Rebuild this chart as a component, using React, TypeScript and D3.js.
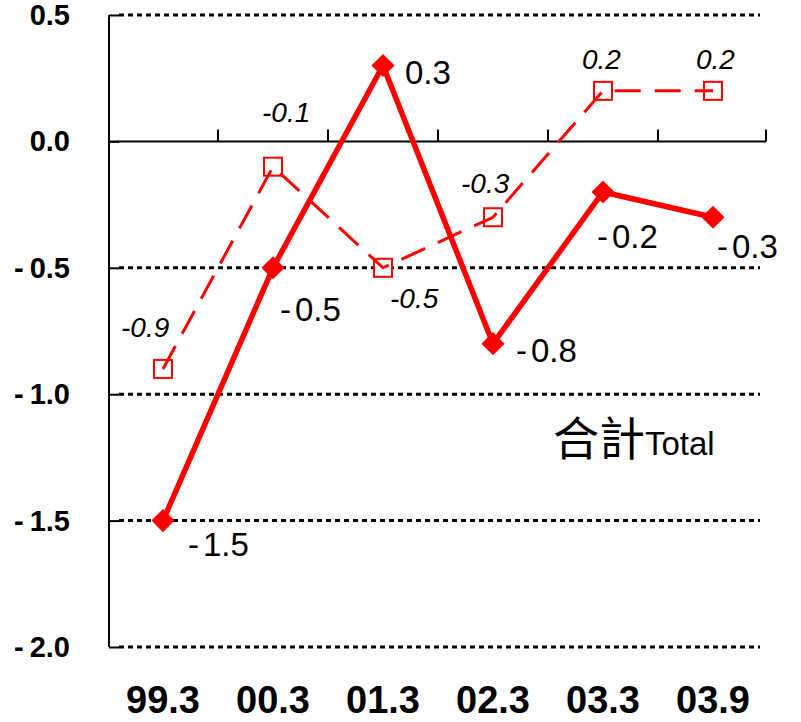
import * as d3 from 'd3';
import { useEffect, useRef } from 'react';

const categories = ['99.3', '00.3', '01.3', '02.3', '03.3', '03.9'];
const solidValues = [-1.5, -0.5, 0.3, -0.8, -0.2, -0.3];
const dashedValues = [-0.9, -0.1, -0.5, -0.3, 0.2, 0.2];
const yTicks = [0.5, 0.0, -0.5, -1.0, -1.5, -2.0];

// label offsets from the point (text start, baseline)
const solidLabelOffsets = [[25, 35], [7, 53], [22, 18], [23, 18], [-6, 56], [4, 41]];
const dashedLabelOffsets = [[-42, -32], [-11, -45], [7, 40], [-32, -24], [-21, -22], [-17, -22]];

const RED = '#ff0000';
const FONT = '"Liberation Sans", Arial, sans-serif';
const fmt = (d: number) => d.toFixed(1);

const App = () => {
  const ref = useRef<SVGSVGElement | null>(null);

  useEffect(() => {
    const width = 801;
    const height = 722;
    const svg = d3.select(ref.current).attr('width', width).attr('height', height);
    svg.selectAll('*').remove();

    const x = d3.scaleBand<string>().domain(categories).range([108, 768]);
    const y = d3.scaleLinear().domain([-2, 0.5]).range([647, 15]);
    const cx = (i: number) => (x(categories[i]) as number) + x.bandwidth() / 2;

    // dotted gridlines
    svg
      .append('g')
      .selectAll('line')
      .data(yTicks.filter((t) => t !== 0))
      .join('line')
      .attr('x1', 119)
      .attr('x2', 760)
      .attr('y1', (d) => y(d))
      .attr('y2', (d) => y(d))
      .attr('stroke', '#000')
      .attr('stroke-width', 3)
      .attr('stroke-dasharray', '5,4');

    // y axis
    const yAxis = d3.axisRight(y).tickValues(yTicks).tickSize(10).tickFormat(() => '');
    const yg = svg.append('g').attr('transform', 'translate(109,0)').call(yAxis);
    yg.select('.domain').attr('stroke', '#000').attr('stroke-width', 2).attr('d', `M0,${y(0.5)}V${y(-2)}`);
    yg.selectAll('.tick line').attr('stroke', '#000').attr('stroke-width', 2);

    // y labels: the minus sign sits a little apart from the number
    const yl = svg
      .append('g')
      .selectAll('text')
      .data(yTicks)
      .join('text')
      .attr('x', 70)
      .attr('y', (d) => y(d) + 10)
      .attr('text-anchor', 'end')
      .attr('font-family', FONT)
      .attr('font-weight', 'bold')
      .attr('font-size', 29);
    yl.append('tspan').text((d) => (d < 0 ? '-' : ''));
    yl.append('tspan')
      .attr('dx', (d) => (d < 0 ? 6 : 0))
      .text((d) => Math.abs(d).toFixed(1));

    // x axis on zero line
    svg
      .append('line')
      .attr('x1', 109)
      .attr('x2', 766)
      .attr('y1', y(0))
      .attr('y2', y(0))
      .attr('stroke', '#000')
      .attr('stroke-width', 2);
    svg
      .append('g')
      .selectAll('line')
      .data(categories.slice(1).map((c) => x(c) as number).concat([766]))
      .join('line')
      .attr('x1', (d) => d)
      .attr('x2', (d) => d)
      .attr('y1', y(0))
      .attr('y2', y(0) - 12)
      .attr('stroke', '#000')
      .attr('stroke-width', 2);

    svg
      .append('g')
      .selectAll('text')
      .data(categories)
      .join('text')
      .attr('x', (_, i) => cx(i))
      .attr('y', 713)
      .attr('text-anchor', 'middle')
      .attr('font-family', FONT)
      .attr('font-weight', 'bold')
      .attr('font-size', 38)
      .text((d) => d);

    const line = d3
      .line<number>()
      .x((_, i) => cx(i))
      .y((d) => y(d));

    // dashed series
    svg
      .append('g')
      .selectAll('rect')
      .data(dashedValues)
      .join('rect')
      .attr('x', (_, i) => cx(i) - 9)
      .attr('y', (d) => y(d) - 9)
      .attr('width', 18)
      .attr('height', 18)
      .attr('fill', '#fff')
      .attr('stroke', RED)
      .attr('stroke-width', 2);
    svg
      .append('path')
      .attr('d', line(dashedValues))
      .attr('fill', 'none')
      .attr('stroke', RED)
      .attr('stroke-width', 3)
      .attr('stroke-dasharray', '26,14');

    // solid series
    svg
      .append('path')
      .attr('d', line(solidValues))
      .attr('fill', 'none')
      .attr('stroke', RED)
      .attr('stroke-width', 5.5)
      .attr('stroke-linejoin', 'round');
    svg
      .append('g')
      .selectAll('path')
      .data(solidValues)
      .join('path')
      .attr('d', d3.symbol().type(d3.symbolDiamond2).size(340)())
      .attr('transform', (d, i) => `translate(${cx(i)},${y(d)})`)
      .attr('fill', RED);

    // labels
    const sl = svg
      .append('g')
      .selectAll('text')
      .data(solidValues)
      .join('text')
      .attr('x', (_, i) => cx(i) + solidLabelOffsets[i][0])
      .attr('y', (d, i) => y(d) + solidLabelOffsets[i][1])
      .attr('font-family', FONT)
      .attr('font-size', 33);
    sl.append('tspan').text((d) => (d < 0 ? '-' : ''));
    sl.append('tspan')
      .attr('dx', (d) => (d < 0 ? 4 : 0))
      .text((d) => Math.abs(d).toFixed(1));

    svg
      .append('g')
      .selectAll('text')
      .data(dashedValues)
      .join('text')
      .attr('x', (_, i) => cx(i) + dashedLabelOffsets[i][0])
      .attr('y', (d, i) => y(d) + dashedLabelOffsets[i][1])
      .attr('font-family', FONT)
      .attr('font-style', 'italic')
      .attr('font-size', 28)
      .text(fmt);

    // title
    const title = svg
      .append('text')
      .attr('x', 553)
      .attr('y', 455)
      .attr('font-family', '"Noto Sans CJK TC", "Noto Sans CJK JP", sans-serif');
    title.append('tspan').attr('font-size', 46).text('合計');
    title.append('tspan').attr('font-family', FONT).attr('font-size', 33).text('Total');
  }, []);

  return <svg ref={ref} style={{ position: 'absolute', left: 0, top: 0 }}></svg>;
};

export default App;
